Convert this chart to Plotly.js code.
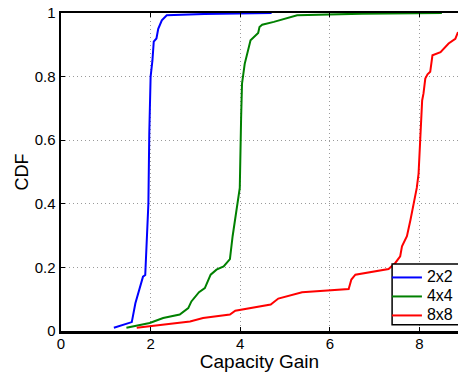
<!DOCTYPE html>
<html>
<head>
<meta charset="utf-8">
<script src="https://cdn.plot.ly/plotly-3.0.1.min.js"></script>
<style>html,body{margin:0;padding:0;background:#fff}#chart{width:458px;height:372px}</style>
</head>
<body>
<div id="chart"></div>
<script>
const seriesNames = ["2x2", "4x4", "8x8"];
const seriesColors = ["#0000ff", "#008000", "#ff0000"];

const x2x2 = [1.18, 1.58, 1.66, 1.72, 1.83, 1.88, 1.91, 1.95, 1.97, 2.0, 2.04, 2.07, 2.13, 2.17, 2.25, 2.36, 3.2, 4.7];
const y2x2 = [0.01, 0.028, 0.087, 0.12, 0.171, 0.176, 0.3, 0.4, 0.62, 0.80, 0.85, 0.91, 0.92, 0.95, 0.977, 0.993, 0.997, 1.0];

const x4x4 = [1.46, 1.98, 2.28, 2.65, 2.84, 2.91, 3.08, 3.21, 3.34, 3.47, 3.63, 3.77, 3.83, 3.93, 3.99, 4.02, 4.04, 4.10, 4.17, 4.23, 4.40, 4.43, 4.49, 4.75, 5.27, 6.72, 8.5];
const y4x4 = [0.01, 0.025, 0.041, 0.052, 0.072, 0.093, 0.122, 0.135, 0.177, 0.193, 0.203, 0.226, 0.298, 0.40, 0.45, 0.673, 0.778, 0.84, 0.883, 0.914, 0.937, 0.956, 0.963, 0.972, 0.993, 0.998, 1.0];

const x8x8 = [1.69, 2.88, 3.17, 3.77, 3.89, 4.68, 4.85, 5.38, 6.42, 6.48, 6.57, 7.31, 7.46, 7.57, 7.61, 7.72, 7.80, 7.87, 7.94, 7.98, 8.02, 8.06, 8.09, 8.13, 8.18, 8.24, 8.29, 8.47, 8.65, 8.80, 8.86];
const y8x8 = [0.01, 0.03, 0.041, 0.052, 0.064, 0.083, 0.102, 0.122, 0.132, 0.162, 0.177, 0.195, 0.214, 0.235, 0.266, 0.298, 0.35, 0.40, 0.45, 0.495, 0.60, 0.725, 0.747, 0.794, 0.807, 0.815, 0.867, 0.877, 0.904, 0.919, 0.94];

const xTicks = [0, 2, 4, 6, 8];
const yTicks = [0, 0.2, 0.4, 0.6, 0.8, 1];
const yTickText = ["0", "0.2", "0.4", "0.6", "0.8", "1"];

const xs = [x2x2, x4x4, x8x8];
const ys = [y2x2, y4x4, y8x8];

const traces = seriesNames.map((n, i) => ({
  x: xs[i], y: ys[i], name: '<span style="font-size:16px">' + n + '</span>',
  type: "scatter", mode: "lines",
  line: {color: seriesColors[i], width: 2}
}));

const font = "Arial, 'Liberation Sans', Helvetica, sans-serif";

const layout = {
  width: 458, height: 372,
  margin: {l: 61, r: 0, t: 13, b: 41, pad: 0},
  paper_bgcolor: "#fff", plot_bgcolor: "#fff",
  font: {family: font, size: 14, color: "#000"},
  showlegend: true,
  legend: {
    x: 0.821, xanchor: "left", y: 0.214, yanchor: "top",
    bgcolor: "rgba(0,0,0,0)", borderwidth: 0,
    font: {family: font, size: 12, color: "#000"},
    tracegroupgap: 0, itemwidth: 30
  },
  shapes: [{
    type: "rect", xref: "paper", yref: "paper",
    x0: 0.834, x1: 1.05, y0: 0.020, y1: 0.211,
    line: {color: "#000", width: 1.5}, fillcolor: "#fff", layer: "above"
  }],
  xaxis: {
    range: [0, 8.86], tickvals: xTicks, ticktext: xTicks.map(String),
    ticks: "inside", ticklen: 4, tickwidth: 1, tickcolor: "#000",
    showline: true, linecolor: "#000", linewidth: 2.5, mirror: "ticks",
    showgrid: true, gridcolor: "#9a9a9a", griddash: "1px,3px", gridwidth: 1,
    zeroline: false, ticklabelstandoff: -3,
    tickfont: {family: font, size: 15, color: "#000"},
    title: {text: "Capacity Gain", font: {family: font, size: 19, color: "#000"}, standoff: 3}
  },
  yaxis: {
    range: [0, 1], tickvals: yTicks, ticktext: yTickText,
    ticks: "inside", ticklen: 4, tickwidth: 1, tickcolor: "#000",
    showline: true, linecolor: "#000", linewidth: 2.5, mirror: false,
    showgrid: true, gridcolor: "#9a9a9a", griddash: "1px,3px", gridwidth: 1,
    zeroline: false,
    tickfont: {family: font, size: 15, color: "#000"},
    title: {text: "CDF", font: {family: font, size: 18, color: "#000"}, standoff: 2}
  }
};

Plotly.newPlot("chart", traces, layout, {displayModeBar: false, staticPlot: true});
</script>
</body>
</html>
